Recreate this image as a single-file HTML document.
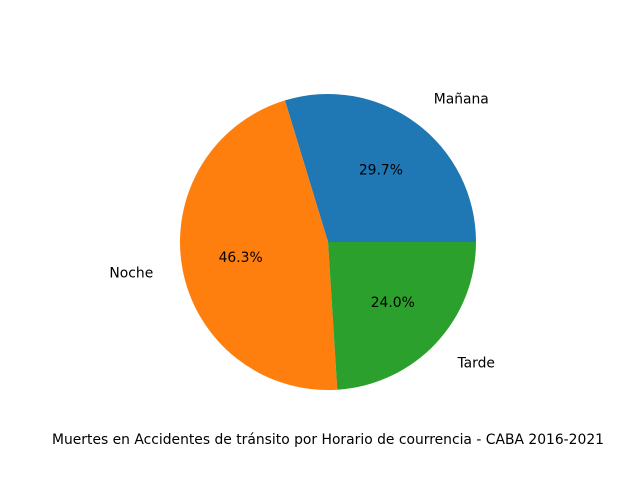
<!DOCTYPE html>
<html><head><meta charset="utf-8"><style>
html,body{margin:0;padding:0;background:#fff;}
svg text{font-family:"DejaVu Sans","Liberation Sans",sans-serif;font-size:13.88px;fill:#000;}
</style></head><body>
<svg id="chart" width="640" height="480" viewBox="0 0 640 480">
<text x="328" y="444" text-anchor="middle">Muertes en Accidentes de tránsito por Horario de courrencia - CABA 2016-2021</text>
</svg>
<script>
const categories = ["Mañana", "Noche", "Tarde"];
const values = [29.7, 46.3, 24.0];
const colors = ["#1f77b4", "#ff7f0e", "#2ca02c"];
const cx = 328, cy = 242, r = 148;
const svg = document.getElementById('chart');
const NS = 'http://www.w3.org/2000/svg';
const total = values.reduce((a, b) => a + b, 0);
let start = 0;
function pt(a, rr) { return [cx + rr * Math.cos(a), cy - rr * Math.sin(a)]; }
values.forEach((v, i) => {
  const frac = v / total;
  const a0 = start * 2 * Math.PI, a1 = (start + frac) * 2 * Math.PI;
  const p0 = pt(a0, r), p1 = pt(a1, r);
  const large = frac > 0.5 ? 1 : 0;
  const path = document.createElementNS(NS, 'path');
  path.setAttribute('d', `M${cx},${cy} L${p0[0]},${p0[1]} A${r},${r} 0 ${large} 0 ${p1[0]},${p1[1]} Z`);
  path.setAttribute('fill', colors[i]);
  
  
  svg.appendChild(path);
  const mid = (a0 + a1) / 2;
  const lp = pt(mid, r * 1.2);
  const lab = document.createElementNS(NS, 'text');
  lab.setAttribute('x', lp[0]); lab.setAttribute('y', lp[1] + 4);
  lab.setAttribute('text-anchor', Math.cos(mid) >= 0 ? 'start' : 'end');
  lab.textContent = categories[i];
  
  
  svg.appendChild(lab);
  const pp = pt(mid, r * 0.6);
  const pc = document.createElementNS(NS, 'text');
  pc.setAttribute('x', pp[0]); pc.setAttribute('y', pp[1] + 4);
  pc.setAttribute('text-anchor', 'middle');
  pc.textContent = (frac * 100).toFixed(1) + '%';
  
  
  svg.appendChild(pc);
  start += frac;
});
</script>
</body></html>
